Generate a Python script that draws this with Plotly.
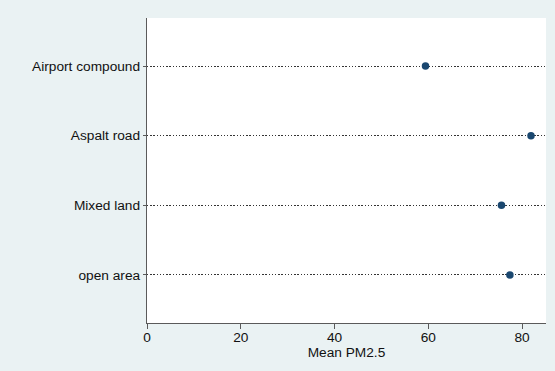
import plotly.graph_objects as go

categories = ["Airport compound", "Aspalt road", "Mixed land", "open area"]
mean_pm25 = [59.4, 81.9, 75.6, 77.4]
x_ticks = [0, 20, 40, 60, 80]

axis_col = "#5a5a5a"
bg = "#eaf2f3"
fs = 13.7
fig = go.Figure()
fig.add_trace(go.Scatter(
    x=mean_pm25, y=categories, mode="markers",
    marker=dict(color="#1a476f", size=7.5, line=dict(width=0)),
    showlegend=False, cliponaxis=False,
))
fig.update_layout(
    width=555, height=371,
    margin=dict(l=147, r=9, t=18, b=48),
    paper_bgcolor=bg, plot_bgcolor="#ffffff",
    font=dict(family="Liberation Sans, Arial, sans-serif", size=fs, color="#111111"),
    xaxis=dict(
        range=[0, 85.1], tickvals=x_ticks, ticks="outside", ticklen=5,
        tickcolor=axis_col, tickwidth=1.3, showline=True, linecolor=axis_col, linewidth=1.3,
        showgrid=False, zeroline=False, ticklabelstandoff=-4,
        tickfont=dict(size=fs),
        title=dict(text="Mean PM2.5", standoff=0, font=dict(size=fs)),
    ),
    yaxis=dict(
        type="category", categoryorder="array", categoryarray=categories[::-1],
        range=[-0.69, 3.69], ticks="outside", ticklen=3, tickcolor=axis_col,
        showline=True, linecolor=axis_col, linewidth=1.3, tickfont=dict(size=fs),
        showgrid=True, gridcolor="#333333", gridwidth=1.3, griddash="1.4px,1.8px",
        zeroline=False,
    ),
)
fig.write_html(
    "out.html",
    config={"displayModeBar": False},
    post_script="document.body.style.margin='0';document.body.style.background='%s';"
                "document.body.style.overflow='hidden';" % bg,
)
